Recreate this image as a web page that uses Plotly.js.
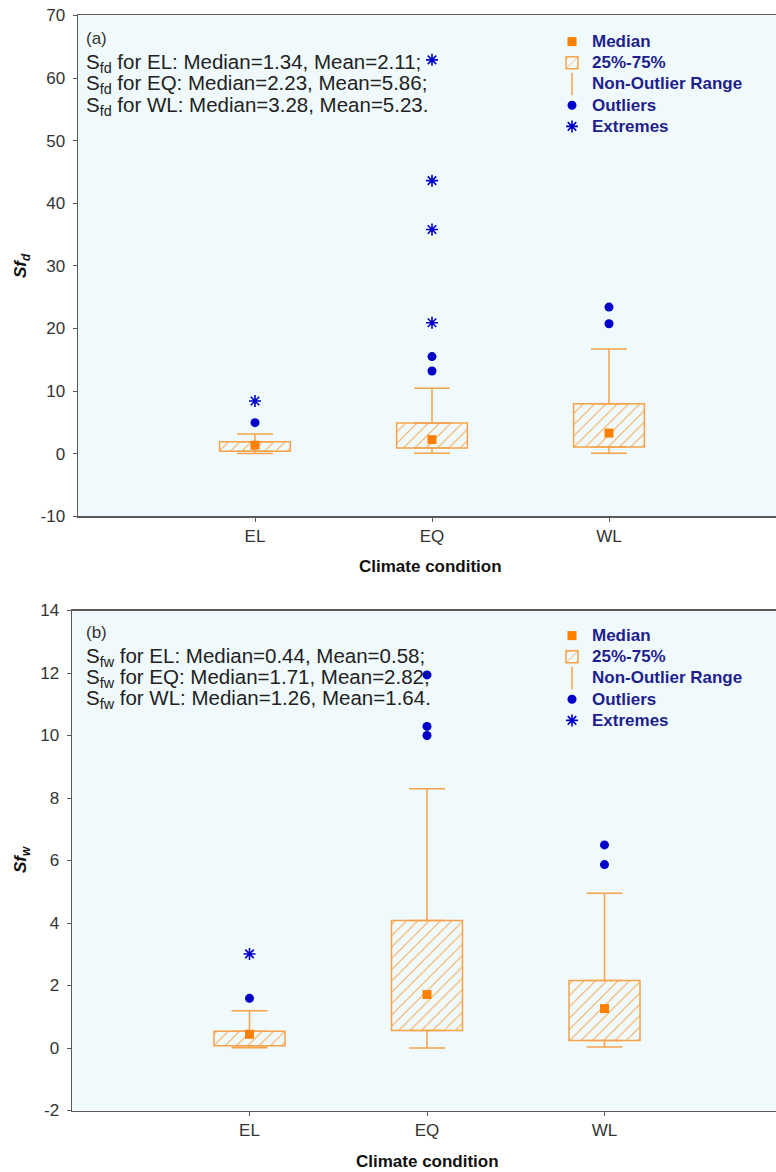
<!DOCTYPE html>
<html>
<head>
<meta charset="utf-8">
<script src="https://cdn.plot.ly/plotly-3.0.1.min.js"></script>
<style>
html, body { margin: 0; padding: 0; overflow: hidden; background: #ffffff; }
#chart { width: 790px; height: 1172px; }
</style>
</head>
<body>
<div id="chart"></div>
<script>
// ---------- data ----------
const categories = ['EL', 'EQ', 'WL'];

// panel (a): Sfd
const aQ1 = [0.37, 0.89, 1.05];
const aQ3 = [1.90, 4.89, 7.97];
const aMedian = [1.34, 2.23, 3.28];
const aMean = [2.11, 5.86, 5.23];
const aMin = [0.02, 0.05, 0.05];
const aMax = [3.13, 10.43, 16.7];
const aOutlierX = ['EL', 'EQ', 'EQ', 'WL', 'WL'];
const aOutlierY = [4.94, 13.2, 15.5, 20.75, 23.4];
const aExtremeX = ['EL', 'EQ', 'EQ', 'EQ', 'EQ'];
const aExtremeY = [8.40, 20.9, 35.8, 43.6, 62.9];
const aTicks = [-10, 0, 10, 20, 30, 40, 50, 60, 70];

// panel (b): Sfw
const bQ1 = [0.07, 0.56, 0.24];
const bQ3 = [0.54, 4.08, 2.16];
const bMedian = [0.44, 1.71, 1.26];
const bMean = [0.58, 2.82, 1.64];
const bMin = [0.01, 0.0, 0.03];
const bMax = [1.19, 8.30, 4.95];
const bOutlierX = ['EL', 'EQ', 'EQ', 'EQ', 'WL', 'WL'];
const bOutlierY = [1.59, 10.0, 10.29, 11.94, 5.87, 6.50];
const bExtremeX = ['EL'];
const bExtremeY = [3.01];
const bTicks = [-2, 0, 2, 4, 6, 8, 10, 12, 14];

const legendLabels = ['Median', '25%-75%', 'Non-Outlier Range', 'Outliers', 'Extremes'];

// ---------- style ----------
const W = 790, H = 1172;
const BOX_ORANGE = '#f5a24b';
const MED_ORANGE = '#ff8000';
const BLUE = '#0000c8';
const LEG_BLUE = '#1f1f8c';
const FONT = 'Liberation Sans, Arial, sans-serif';
const BOX_WIDTH = 0.40;
const px = v => v / W;
const py = v => 1 - v / H;
const legName = t => '<span style="font-size:17px">' + t + '</span>';

function panelTraces(q1, q3, med, mn, mx, ox, oy, ex, ey, xa, ya, leg) {
  const heights = q3.map((v, i) => v - q1[i]);
  return [
    { type: 'bar', x: categories, y: heights, base: q1, width: categories.map(() => BOX_WIDTH),
      xaxis: xa, yaxis: ya, legend: leg, name: legName(legendLabels[1]), legendrank: 2,
      marker: { color: 'rgba(0,0,0,0)', line: { color: BOX_ORANGE, width: 1.5 },
        pattern: { shape: '/', fgcolor: BOX_ORANGE, bgcolor: 'rgba(0,0,0,0)', size: 8, solidity: 0.12 } },
      hoverinfo: 'skip' },
    { type: 'scatter', mode: 'markers', x: categories, y: q3, xaxis: xa, yaxis: ya, showlegend: false,
      marker: { size: 1, color: 'rgba(0,0,0,0)' },
      error_y: { type: 'data', symmetric: false, array: mx.map((v, i) => v - q3[i]),
        arrayminus: q3.map(() => 0), width: 18, thickness: 1.5, color: BOX_ORANGE },
      hoverinfo: 'skip' },
    { type: 'scatter', mode: 'markers', x: categories, y: q1, xaxis: xa, yaxis: ya, showlegend: false,
      marker: { size: 1, color: 'rgba(0,0,0,0)' },
      error_y: { type: 'data', symmetric: false, array: q1.map(() => 0),
        arrayminus: mn.map((v, i) => q1[i] - v), width: 18, thickness: 1.5, color: BOX_ORANGE },
      hoverinfo: 'skip' },
    { type: 'scatter', mode: 'markers', x: [null], y: [null], xaxis: xa, yaxis: ya, legend: leg,
      name: legName(legendLabels[2]), legendrank: 3,
      marker: { symbol: 'line-ns-open', size: 16, color: BOX_ORANGE, line: { color: BOX_ORANGE, width: 1.5 } } },
    { type: 'scatter', mode: 'markers', x: categories, y: med, xaxis: xa, yaxis: ya, legend: leg,
      name: legName(legendLabels[0]), legendrank: 1,
      marker: { symbol: 'square', size: 9, color: MED_ORANGE } },
    { type: 'scatter', mode: 'markers', x: ox, y: oy, xaxis: xa, yaxis: ya, legend: leg,
      name: legName(legendLabels[3]), legendrank: 4,
      marker: { symbol: 'circle', size: 9, color: BLUE } },
    { type: 'scatter', mode: 'markers', x: ex, y: ey, xaxis: xa, yaxis: ya, legend: leg,
      name: legName(legendLabels[4]), legendrank: 5,
      marker: { symbol: 'asterisk-open', size: 10, color: BLUE, line: { color: BLUE, width: 1.6 } } }
  ];
}

const traces = [].concat(
  panelTraces(aQ1, aQ3, aMedian, aMin, aMax, aOutlierX, aOutlierY, aExtremeX, aExtremeY, 'x', 'y', 'legend'),
  panelTraces(bQ1, bQ3, bMedian, bMin, bMax, bOutlierX, bOutlierY, bExtremeX, bExtremeY, 'x2', 'y2', 'legend2')
);

function statLines(sub, med, mean) {
  return categories.map((c, i) =>
    'S<sub>' + sub + '</sub> for ' + c + ': Median=' + med[i].toFixed(2) +
    ', Mean=' + mean[i].toFixed(2) + (i === categories.length - 1 ? '.' : ';'));
}

const statFont = { family: FONT, size: 20.5, color: '#222222' };
const annotations = [];
function addText(text, x, y, extra) {
  annotations.push(Object.assign({ xref: 'paper', yref: 'paper', x: px(x), y: py(y), text: text,
    showarrow: false, xanchor: 'left', yanchor: 'middle', font: statFont }, extra || {}));
}
addText('(a)', 84, 38, { font: { family: FONT, size: 17, color: '#333333' } });
statLines('fd', aMedian, aMean).forEach((t, i) => addText(t, 84, 63 + i * 21.5));
addText('(b)', 84, 632, { font: { family: FONT, size: 17, color: '#333333' } });
statLines('fw', bMedian, bMean).forEach((t, i) => addText(t, 84, 657 + i * 21));

const titleFont = { family: FONT, size: 17, color: '#111111' };
addText('<b>Climate condition</b>', 430, 566, { xanchor: 'center', font: titleFont });
addText('<b>Climate condition</b>', 427, 1161, { xanchor: 'center', font: titleFont });
addText('<b><i>Sf<sub>d</sub></i></b>', 22, 266, { xanchor: 'center', textangle: -90, font: titleFont });
addText('<b><i>Sf<sub>w</sub></i></b>', 22, 860, { xanchor: 'center', textangle: -90, font: titleFont });

function xAxis(domain, anchor) {
  return { domain: domain, anchor: anchor, type: 'category', categoryorder: 'array', categoryarray: categories,
    range: [-1, 3], showline: true, linecolor: '#5a5a5a', linewidth: 1.5, mirror: true,
    ticks: 'outside', ticklen: 4, tickcolor: '#5a5a5a', showgrid: false, zeroline: false,
    tickfont: { family: FONT, size: 17, color: '#333333' } };
}
function yAxis(domain, anchor, range, ticks) {
  return { domain: domain, anchor: anchor, range: range, tickmode: 'array',
    tickvals: ticks, ticktext: ticks.map(v => String(v)),
    showline: true, linecolor: '#5a5a5a', linewidth: 1.5, mirror: true,
    ticks: 'outside', ticklen: 4, tickcolor: '#5a5a5a', showgrid: false, zeroline: false,
    ticklabelstandoff: 4,
    tickfont: { family: FONT, size: 17, color: '#333333' } };
}

const legendCommon = { xanchor: 'left', yanchor: 'top', bgcolor: 'rgba(0,0,0,0)',
  font: { family: FONT, size: 14, color: LEG_BLUE, weight: 'bold' }, itemwidth: 30, tracegroupgap: 0,
  traceorder: 'normal' };

const layout = {
  width: W, height: H, margin: { l: 0, r: 0, t: 0, b: 0 },
  paper_bgcolor: '#ffffff', plot_bgcolor: '#f0fafc',
  showlegend: true, barmode: 'overlay',
  xaxis: xAxis([px(78), px(786)], 'y'),
  yaxis: yAxis([py(516.2), py(15.4)], 'x', [-10, 70], aTicks),
  xaxis2: xAxis([px(72), px(782)], 'y2'),
  yaxis2: yAxis([py(1110.5), py(610.5)], 'x2', [-2, 14], bTicks),
  legend: Object.assign({ x: px(552), y: py(26) }, legendCommon),
  legend2: Object.assign({ x: px(552), y: py(620) }, legendCommon),
  annotations: annotations
};

Plotly.newPlot('chart', traces, layout, { staticPlot: true });
</script>
</body>
</html>
